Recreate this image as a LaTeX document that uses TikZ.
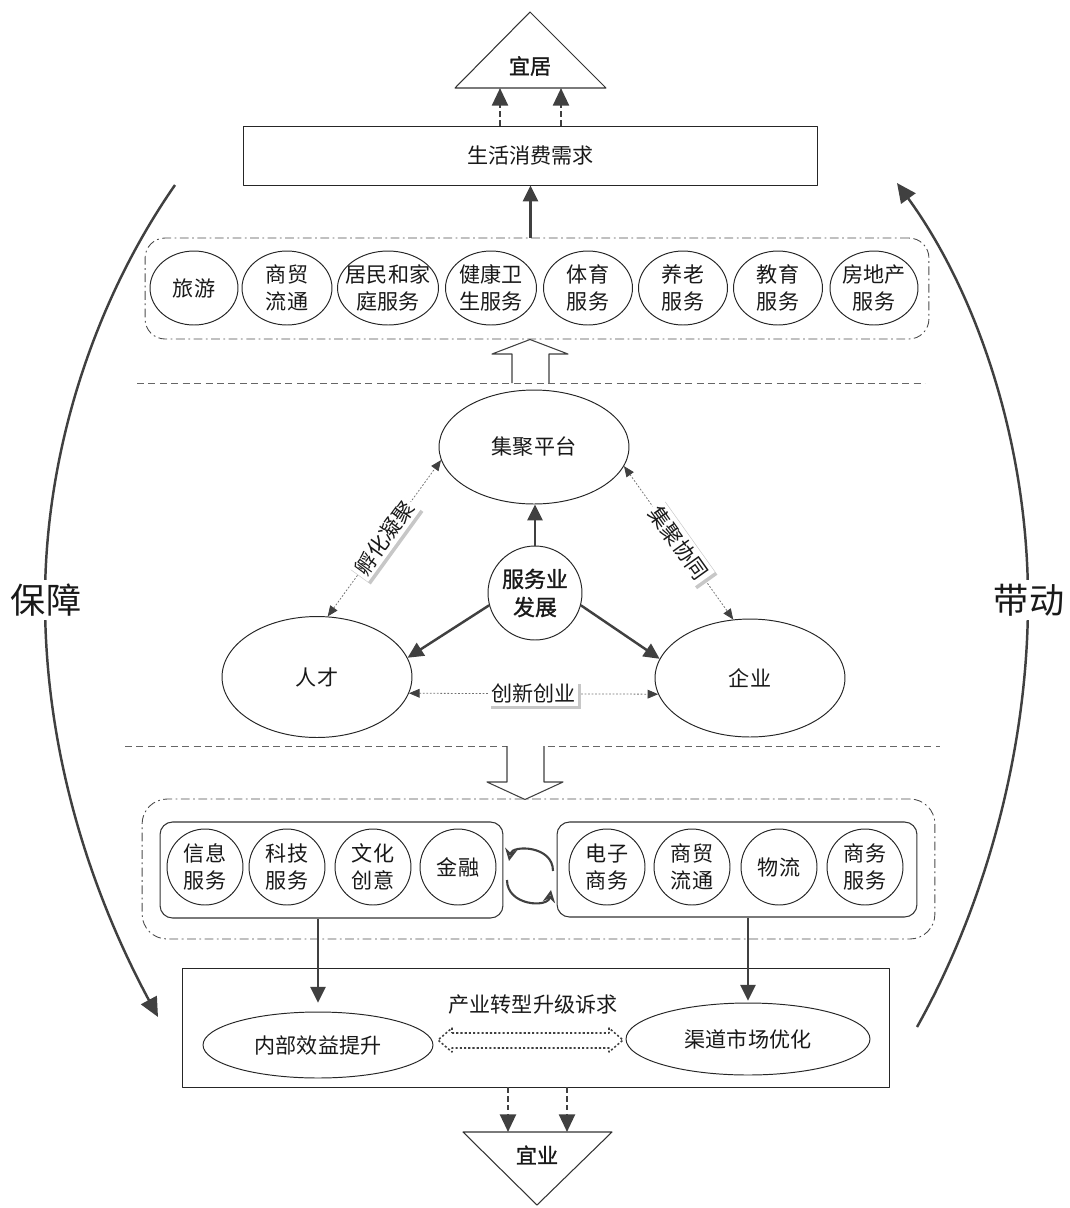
\documentclass[tikz,border=0pt]{standalone}
\usepackage{fontspec}
\setmainfont{Noto Sans CJK SC}
\newfontfamily\cjkbold[FakeBold=1.2]{Noto Sans CJK SC}
\usetikzlibrary{arrows.meta,shapes.geometric,shadows}
\begin{document}
\begin{tikzpicture}[x=0.02cm, y=-0.02cm, line join=round,
  txt/.style={font=\fontsize{12}{15.5}\selectfont, inner sep=0pt, align=center, text=black!90},
  shp/.style={draw=black!85, line width=0.55pt, fill=white, txt},
  topell/.style={shp, ellipse, minimum height=1.48cm},
  bcirc/.style={shp, circle, minimum size=1.52cm},
  bigell/.style={shp, ellipse},
  dashdot/.style={draw=black!70, line width=0.5pt, rounded corners=0.4cm, dash pattern=on 5pt off 2pt on 1pt off 2pt, inner sep=0pt},
  innerbox/.style={draw=black!80, line width=0.6pt, rounded corners=0.25cm, inner sep=0pt},
  sepline/.style={draw=black!60, line width=0.5pt, dash pattern=on 4pt off 2.5pt},
  arr/.style={draw=black!75, line width=1.4pt, -{Triangle[length=9pt,width=8.5pt]}},
  darr/.style={draw=black!75, line width=1.5pt, dash pattern=on 3pt off 2pt, -{Triangle[length=10pt,width=9pt]}},
  dotarr/.style={draw=black!55, line width=0.45pt, dash pattern=on 1pt off 1pt,
     {Triangle[length=6pt,width=5pt,color=black!75]}-{Triangle[length=6pt,width=5pt,color=black!75]}},
  hollow/.style={draw=black!75, line width=0.6pt, fill=white},
  bigarc/.style={draw=black!75, line width=1.4pt, -{Triangle[length=11pt,width=10pt]}},
  cyc/.style={draw=black!75, line width=1.2pt, -{Stealth[open,length=7pt,width=7pt]}},
  lab/.style={txt, fill=white, inner sep=1.5pt},
  shlab/.style={lab, drop shadow={shadow xshift=1.5pt, shadow yshift=-1.5pt, fill=black!22, opacity=1}},
  tri/.style={draw=black!80, line width=0.6pt, fill=white},
]
\useasboundingbox (0,0) rectangle (1070,1208);

% ---------- side arcs ----------
\coordinate (la1) at (175,185);
\coordinate (la2) at (158,1017);
\coordinate (ra1) at (917,1027);
\coordinate (ra2) at (897,183);
\draw[bigarc] (la1) .. controls (95,300) and (45,450) .. (45,600) .. controls (45,760) and (95,900) .. (la2);
\draw[bigarc] (ra1) .. controls (980,915) and (1028,760) .. (1028,600) .. controls (1028,440) and (975,290) .. (ra2);
\node[txt, fill=white, inner sep=2pt, font=\fontsize{20}{24}\selectfont] (bz) at (46,600) {保障};
\node[txt, fill=white, inner sep=2pt, font=\fontsize{20}{24}\selectfont] (dd) at (1029,600) {带动};

% ---------- top: 宜居 ----------
\draw[tri] (455,88) -- (606,88) -- (530,12) -- cycle;
\node[txt, font=\fontsize{12}{15}\cjkbold] (yiju) at (530,66) {宜居};
\coordinate (yj1) at (500,88);
\coordinate (yj2) at (561,88);
\node[shp, rectangle, minimum width=11.5cm, minimum height=1.18cm] (need) at (530.5,155.5) {生活消费需求};
\draw[darr] (yj1 |- need.north) -- (yj1);
\draw[darr] (yj2 |- need.north) -- (yj2);

% ---------- top container ----------
\node[dashdot, minimum width=15.68cm, minimum height=2.02cm] (topc) at (537,288.5) {};
\draw[arr] (topc.north -| need.south) -- (need.south);
\node[topell, minimum width=1.76cm] (e1) at (194,288) {旅游};
\node[topell, minimum width=1.80cm] (e2) at (287,288) {商贸\\流通};
\node[topell, minimum width=2.02cm, inner xsep=-0.14cm] (e3) at (388,288) {居民和家\\庭服务};
\node[topell, minimum width=1.82cm] (e4) at (491,288) {健康卫\\生服务};
\node[topell, minimum width=1.78cm] (e5) at (588,288) {体育\\服务};
\node[topell, minimum width=1.78cm] (e6) at (683,288) {养老\\服务};
\node[topell, minimum width=1.78cm] (e7) at (778,288) {教育\\服务};
\node[topell, minimum width=1.76cm, inner xsep=-0.02cm] (e8) at (874,288) {房地产\\服务};

% hollow up arrow
\draw[hollow] (512,383) -- (512,354) -- (492,354) -- (530,339.5) -- (568,354) -- (549,354) -- (549,383);
\draw[sepline] (137,383) -- (925,383);

% ---------- middle triangle ----------
\node[bigell, minimum width=3.8cm, minimum height=2.28cm] (jj) at (534,447) {集聚平台};
\node[bigell, minimum width=3.8cm, minimum height=2.42cm] (rc) at (317,677) {人才};
\node[bigell, minimum width=3.8cm, minimum height=2.36cm] (qy) at (750,678) {企业};
\node[shp, circle, minimum size=1.88cm, font=\fontsize{12.5}{16}\cjkbold] (fw) at (535,593) {服务业\\发展};

\draw[arr] (fw.north) -- (fw.north |- jj.south);
\draw[arr] (fw.195) -- (rc.12);
\draw[arr] (fw.-15) -- (qy.168);
\draw[dotarr] (rc.80) -- node[shlab, sloped] (lfh) {孵化凝聚} (jj.188);
\draw[dotarr] (jj.-12) -- node[shlab, sloped] (ljj) {集聚协同} (qy.106);
\draw[dotarr] (rc.-10) -- node[shlab] (lcx) {创新创业} (qy.190);

\draw[sepline] (125,746) -- (940,746);
% hollow down arrow
\draw[hollow] (507,746) -- (507,782) -- (487,782) -- (525,799.5) -- (563,782) -- (544,782) -- (544,746);

% ---------- bottom container ----------
\node[dashdot, rounded corners=0.5cm, minimum width=15.86cm, minimum height=2.8cm] (botc) at (538.5,869) {};
\node[innerbox, minimum width=6.86cm, minimum height=1.92cm] (lbox) at (331.5,870) {};
\node[innerbox, minimum width=7.2cm, minimum height=1.9cm] (rbox) at (737,869.5) {};
\node[bcirc] (c1) at (205,867) {信息\\服务};
\node[bcirc] (c2) at (287,867) {科技\\服务};
\node[bcirc] (c3) at (373,867) {文化\\创意};
\node[bcirc] (c4) at (458,867) {金融};
\node[bcirc] (c5) at (607,867) {电子\\商务};
\node[bcirc] (c6) at (692,867) {商贸\\流通};
\node[bcirc] (c7) at (779,867) {物流};
\node[bcirc] (c8) at (865,867) {商务\\服务};

% cycle arrows
\coordinate (cy1) at (553,871);
\coordinate (cy2) at (509,861);
\coordinate (cy3) at (507,880);
\coordinate (cy4) at (551,890);
\draw[cyc] (cy1) .. controls (553,845) and (512,845) .. (cy2);
\draw[cyc] (cy3) .. controls (507,906) and (548,908) .. (cy4);

% ---------- bottom box ----------
\node[shp, rectangle, minimum width=14.16cm, minimum height=2.38cm] (req) at (536,1027.5) {};
\node[txt] (reqt) at (533,1005) {产业转型升级诉求};
\node[bigell, minimum width=4.6cm, minimum height=1.32cm] (nb) at (318,1045) {内部效益提升};
\node[bigell, minimum width=4.88cm, minimum height=1.44cm] (qd) at (748,1039) {渠道市场优化};
\draw[arr, shorten >=5pt] (nb.north |- lbox.south) -- (nb.north);
\draw[arr, shorten >=1pt] (qd.north |- rbox.south) -- (qd.north);

% hollow dotted double arrow
\draw[draw=black!75, line width=0.9pt, dash pattern=on 1.2pt off 1.2pt, fill=white]
  (452,1033) -- (609,1033) -- (609,1028) -- (623,1040) -- (609,1052) -- (609,1048)
  -- (452,1048) -- (452,1052) -- (438,1040) -- (452,1028) -- cycle;

% ---------- 宜业 ----------
\draw[tri] (463,1132) -- (612,1132) -- (537,1205) -- cycle;
\node[txt, font=\fontsize{12}{15}\cjkbold] (yiye) at (537,1155) {宜业};
\coordinate (yy1) at (508,1132);
\coordinate (yy2) at (567,1132);
\draw[darr] (yy1 |- req.south) -- (yy1);
\draw[darr] (yy2 |- req.south) -- (yy2);
\end{tikzpicture}
\end{document}
